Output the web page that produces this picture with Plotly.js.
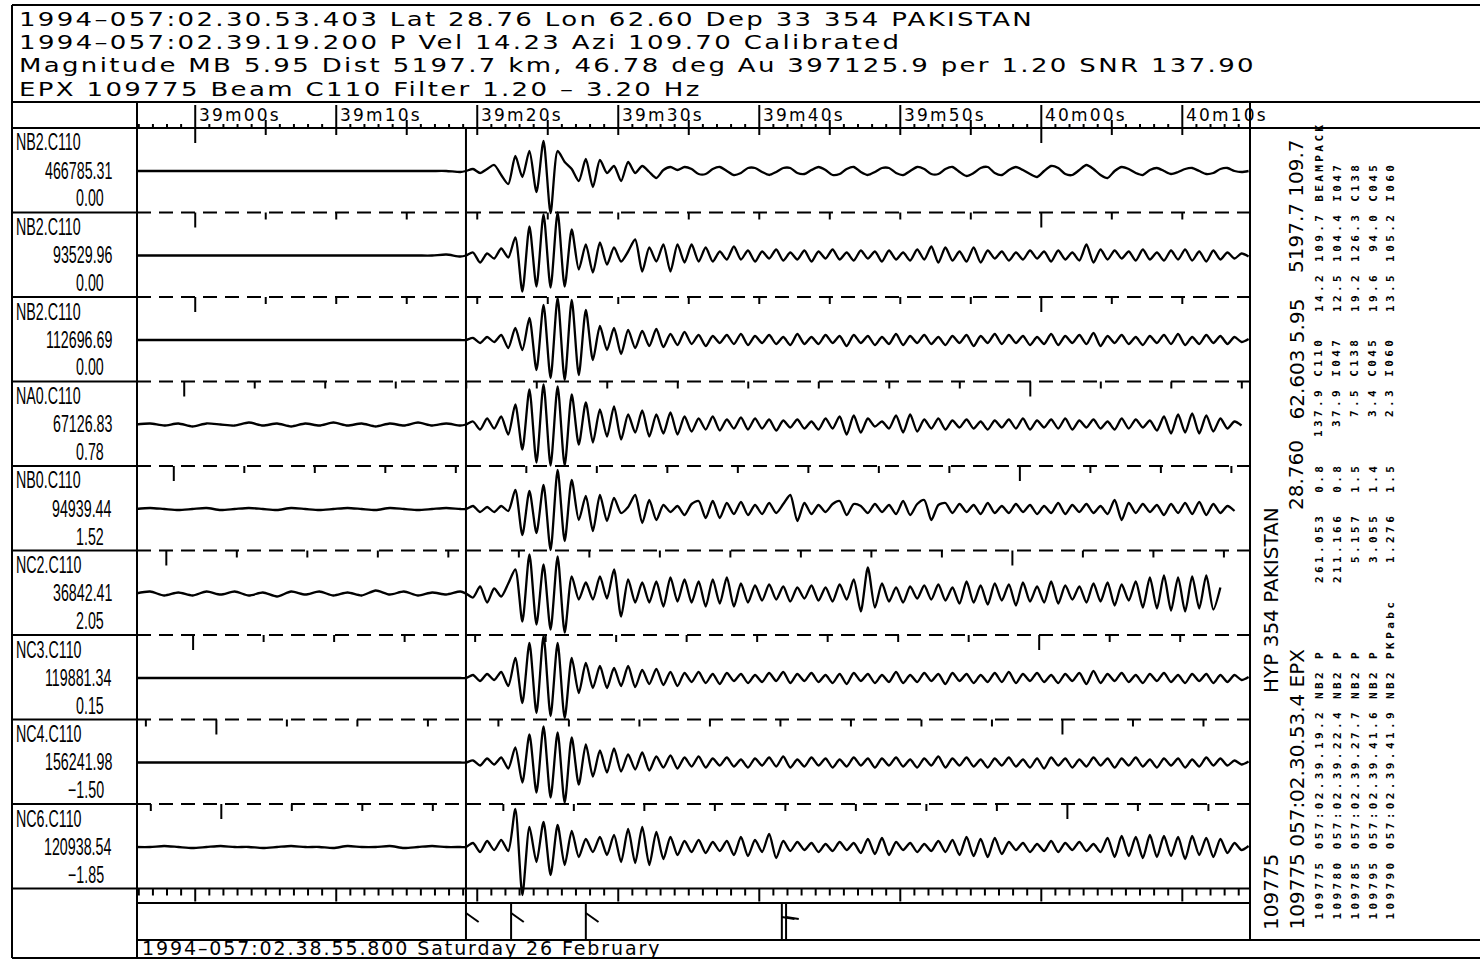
<!DOCTYPE html>
<html><head><meta charset="utf-8">
<script src="https://cdn.plot.ly/plotly-3.0.1.min.js"></script>
<style>
html,body{margin:0;padding:0;background:#fff;}
#chart{width:1480px;height:961px;}
text[style*="Verdana"]{letter-spacing:1.8px;transform-box:fill-box;transform-origin:center;transform:scaleX(1.3);}
text[style*="Tahoma"]{letter-spacing:2.2px;}
text[style*="Geneva"]{letter-spacing:1.9px;}
text[style*="Courier"]{letter-spacing:3.4px;}
text[style*="Arial Narrow"]{transform-box:fill-box;transform-origin:center;transform:scaleX(0.62);}
</style></head>
<body><div id="chart"></div>
<script>
// ---------------- data ----------------
const headerLines = [
  "1994–057:02.30.53.403 Lat 28.76 Lon 62.60 Dep 33 354 PAKISTAN",
  "1994–057:02.39.19.200 P Vel 14.23 Azi 109.70 Calibrated",
  "Magnitude MB 5.95 Dist 5197.7 km, 46.78 deg Au 397125.9 per 1.20 SNR 137.90",
  "EPX 109775 Beam C110 Filter 1.20 – 3.20 Hz"
];
const dateText = "1994–057:02.38.55.800 Saturday 26 February";
const START_SEC = 55.8;          // window start, seconds after 02:38:00
const ARRIVAL_SEC = 79.2;        // 02:39:19.2
const T_END = 79.0;              // window length (s)
const tickSecs = [60, 70, 80, 90, 100, 110, 120, 130];
const tickLabels = ["39m00s","39m10s","39m20s","39m30s","39m40s","39m50s","40m00s","40m10s"];

const stations = ["NB2.C110","NB2.C110","NB2.C110","NA0.C110","NB0.C110","NC2.C110","NC3.C110","NC4.C110","NC6.C110"];
const scales = ["466785.31","93529.96","112696.69","67126.83","94939.44","36842.41","119881.34","156241.98","120938.54"];
const delays = [0.00, 0.00, 0.00, 0.78, 1.52, 2.05, 0.15, -1.50, -1.85];

const PRE_DT = 1.0, POST_DT = 0.5;
// pre-arrival noise (1 s steps) and post-arrival waveform (0.5 s steps), amplitude in plot units
const pre_NB2a = [0,0,0,0,0,0,0,0,0,0,0,0,0,0,0,0,0,0,0,0,0,0,0,-1];
const post_NB2a = [0,2,-2,2,6,-4,-13,15,-6,20, -21,30,-42,20,9,2,-10,12,-16,11, -2,5,-10,9,-2,5,-1,-7,1,4,
  1,4,2,-3,-3,2,4,0,-4,-2, 3,3,-1,-4,-1,3,3,-2,-3,1, 4,1,-4,-3,2,4,-1,-4,-1,3, 3,-2,-4,0,4,2,-3,-3,2,4,
  -1,-5,-2,3,4,-2,-4,1,4,1, -3,-6,0,5,3,-3,-4,1,6,2, -4,-7,0,4,2,-2,-4,1,3,0, -3,-1,2,3,0,-3,-2,2,3,0, -1,0];
const pre_NB2b = [0,0,0,0,0,0,0,0,0,0,0,0,0,0,0,0,0,0,0,0,0,0,1,-1];
const post_NB2b = [0,3,-7,2,-3,7,-2,18,-36,29, -31,41,-32,43,-31,26,-14,11,-17,13, -9,8,-6,4,16,-16,8,-6,11,-16,
  11,-7,11,-6,8,-6,4,-4,9,-4, 5,-6,4,-3,6,-5,3,-4,5,-6, 4,-3,6,-4,3,-5,5,-3,4,-6, 5,-4,3,-5,6,-4,9,-7,8,-5,
  4,-6,8,-7,5,-3,4,-5,3,-4, 5,-3,4,-6,5,-4,3,-5,11,-7, 6,-4,5,-3,4,-5,6,-4,3,-5, 5,-4,6,-5,4,-6,5,-4,3,-3, 2,-1];
const pre_NB2c = [0,0,0,0,0,0,0,0,0,0,0,0,0,0,0,0,0,0,0,0,0,0,0,0];
const post_NB2c = [0,2,-3,3,-2,5,-8,12,-10,22, -30,35,-38,42,-40,40,-35,30,-20,14, -10,12,-14,10,-8,9,-6,11,-7,6,
  -5,8,-4,5,-6,4,-3,5,-4,6, -5,4,-3,5,-4,3,-5,6,-4,3, -4,5,-3,4,-6,5,-3,4,-5,3, -4,6,-5,4,-3,5,-4,3,-5,4,
  -3,5,-6,4,-3,6,-4,5,-3,4, -5,3,-4,6,-5,4,-3,5,-4,7, -6,4,-3,5,-4,3,-5,4,-3,5, -4,6,-5,3,-4,5,-3,4,-4,3, -2,1];
const pre_NA0 = [0,1,-1,1,-2,1,0,-1,2,-1,1,-2,1,-1,2,-1,1,-2,1,-1,2,-1,1,-1];
const post_NA0 = [0,3,-5,6,-4,8,-10,20,-25,35, -38,40,-41,38,-41,30,-20,22,-18,15, -12,18,-15,10,-8,14,-12,10,-9,12,
  -10,8,-7,6,-5,8,-6,5,-4,7, -5,6,-4,5,-6,4,-3,5,-4,3, -5,6,-4,8,-10,9,-8,6,-2,3, -4,9,-8,10,-7,5,-4,6,-5,4,
  -3,5,-4,3,-5,4,-3,5,-4,6, -5,4,-3,5,-4,6,-5,4,-3,5, -4,3,-5,6,-4,5,-3,4,-6,8, -9,10,-8,11,-9,9,-7,6,-4,3, -1];
const pre_NB0 = [0,1,0,-1,0,1,-1,0,1,0,-1,1,0,-1,0,1,0,-1,1,0,-1,0,1,0];
const post_NB0 = [0,3,-3,2,-3,3,-2,19,-26,18, -24,24,-41,39,-32,29,-11,13,-22,14, -12,11,-4,2,14,-14,9,-11,4,-3,
  3,-6,5,8,-9,8,-9,6,-5,7, -6,4,-5,6,-4,5,14,-12,6,-5, 4,-3,5,8,-6,5,3,-4,5,-3, 4,-5,8,-6,5,9,-11,4,6,-4,
  5,-3,4,-5,6,-4,3,-4,5,-3, 4,-5,3,-4,6,-5,4,-3,5,-4, 3,-5,9,-11,6,-4,5,-3,4,-6, 5,-4,6,-5,7,-6,5,-4,3,-2];
const pre_NC2 = [0,2,-2,1,-2,2,-1,2,-2,1,-3,2,-1,2,-2,1,-2,3,-1,2,-2,1,-1,2];
const post_NC2 = [0,-4,7,-9,5,-3,10,24,-28,39, -31,29,-36,37,-39,17,-6,11,-6,17, -5,24,-23,14,-9,11,-9,12,-13,16,
  -8,14,-9,12,-13,14,-10,16,-13,10, -9,8,-7,9,-6,7,-8,6,-5,8, -7,6,-8,9,-6,14,-18,26,-14,10, -8,6,-9,7,-5,8,-6,9,-7,6,
  -10,12,-9,8,-11,10,-7,9,-12,11, -8,7,-9,12,-10,8,-6,7,-9,10, -8,11,-12,9,-7,12,-14,16,-15,18, -17,16,-18,17,-15,18,-16,6];
const pre_NC3 = [0,0,0,0,0,0,0,0,0,0,0,0,0,0,0,0,0,0,0,0,0,0,0,0];
const post_NC3 = [0,3,-3,4,-2,6,-8,20,-25,35, -35,42,-38,35,-40,20,-15,15,-10,12, -10,10,-8,12,-9,8,-6,9,-7,6,
  -8,5,-4,6,-5,4,-6,5,-3,4, -5,3,-4,5,-3,6,-5,4,-3,5, -4,3,-5,4,-6,5,-3,4,-5,3, -4,6,-5,3,-4,5,-3,4,-6,5,
  -3,4,-5,3,-4,5,-4,6,-5,4, -3,5,-4,3,-5,4,-3,5,-6,7, -5,4,-3,5,-4,3,-5,4,-3,5, -4,3,-5,4,-3,4,-5,3,-4,3, -2,1];
const pre_NC4 = [0,0,0,0,0,0,0,0,0,0,0,0,0,0,0,0,0,0,0,0,0,0,0,0];
const post_NC4 = [0,2,-3,4,-2,5,-6,15,-20,28, -30,36,-35,30,-40,25,-22,18,-14,12, -10,14,-9,8,-7,10,-8,6,-5,7,
  -6,5,-4,6,-5,4,-3,5,-4,3, -5,4,-3,5,-4,6,-5,3,-4,5, -3,4,-5,3,-4,5,-3,4,-5,4, -3,5,-4,3,-5,4,-3,6,-5,4,
  -3,5,-4,3,-5,4,-3,5,-4,3, -5,4,-6,5,-3,4,-5,3,-4,5, -3,4,-5,4,-3,5,-4,3,-5,4, -3,4,-5,3,-4,5,-3,4,-3,2, -2,1];
const pre_NC6 = [0,0,1,0,-1,0,1,0,0,-1,0,1,0,0,-1,1,0,0,1,-1,0,1,0,0];
const post_NC6 = [0,4,-5,6,-3,7,-4,38,-48,20, -15,25,-28,22,-18,16,-10,8,-5,10, -8,12,-15,18,-16,20,-18,15,-12,10,
  -8,6,-5,7,-6,5,-4,6,-8,10, -9,7,-5,13,-11,6,-4,5,-3,4, -5,3,-4,5,-3,4,-6,8,-7,9, -8,5,-3,4,-5,3,-4,6,-5,7,
  -8,10,-9,8,-10,9,-7,5,-3,4, -5,3,-4,6,-5,4,-3,5,-4,3, -5,9,-10,11,-9,10,-11,12,-10,11, -9,10,-12,11,-8,9,-10,8,-6,4, -3,1];
const preWaves = [pre_NB2a, pre_NB2b, pre_NB2c, pre_NA0, pre_NB0, pre_NC2, pre_NC3, pre_NC4, pre_NC6];
const postWaves = [post_NB2a, post_NB2b, post_NB2c, post_NA0, post_NB0, post_NC2, post_NC3, post_NC4, post_NC6];

// right-hand info panel
const evBig1 = ["109775", "HYP 354 PAKISTAN"];
const evBig2 = ["109775 057:02.30.53.4 EPX", "28.760", "62.603 5.95", "5197.7 109.7"];
const pickIds   = ["109775","109780","109785","109795","109790"];
const pickTimes = ["057:02.39.19.2","057:02.39.22.4","057:02.39.27.7","057:02.39.41.6","057:02.39.41.9"];
const pickSta   = ["NB2","NB2","NB2","NB2","NB2"];
const pickPhase = ["P","P","P","P","PKPabc"];
const pickAmp   = ["261.053","211.166","5.157","3.055","1.276"];
const pickPer   = ["0.8","0.8","1.5","1.4","1.5"];
const pickSnr   = ["137.9","37.9","7.5","3.4","2.3"];
const pickBeam  = ["C110","I047","C138","C045","I060"];
const pickVel   = ["14.2","12.5","19.2","19.6","13.5"];
const pickAzi   = ["109.7","104.4","126.3","94.0","105.2"];
const pickBeam2 = ["BEAMPACK","I047","C138","C045","I060"];

// ---------------- layout geometry ----------------
const W = 1480, H = 961;
const PLOT_L = 136, PLOT_R = 1250, LAB_L = 12;
const ROW_TOP = 128, ROW_H = 84.5, BASE_OFF = 43;
const AX_BOT = ROW_TOP + 9 * ROW_H;   // bottom axis line
const MK_TOP = 903, MK_BOT = 940, FR_TOP = 5, FR_BOT = 958, HDR_BOT = 102;
const px = x => x / W, py = y => 1 - y / H;
const NB = '\u00A0';
const rowTop = r => ROW_TOP + r * ROW_H;

const traces = [];
const shapes = [];
const ann = [];
const BLK = '#000';

function pline(x0, y0, x1, y1, opt) {
  shapes.push({type:'line', xref:'paper', yref:'paper', x0:px(x0), y0:py(y0), x1:px(x1), y1:py(y1),
    line:Object.assign({color:BLK, width:2}, opt || {})});
}

// waveforms
for (let r = 0; r < 9; r++) {
  const base = rowTop(r) + BASE_OFF;
  const pre = preWaves[r], post = postWaves[r];
  const tArr = ARRIVAL_SEC - START_SEC;
  const xs = pre.map((_, i) => i * PRE_DT).concat(post.map((_, i) => tArr + i * POST_DT));
  const ys = pre.concat(post).map(v => -base + v);
  traces.push({x: xs, y: ys, type:'scatter', mode:'lines', hoverinfo:'skip',
    line:{color:BLK, width:2.3, shape:'spline', smoothing:0.7}});
}

// tick marks (as line segments in data space)
const tx = [], ty = [];
function seg(t, y0, y1) { tx.push(t, t, null); ty.push(-y0, -y1, null); }
for (let s = Math.ceil(START_SEC); s - START_SEC <= T_END; s++) {
  const t = s - START_SEC;
  const len = (s % 10 === 0) ? 23 : (s % 5 === 0 ? 8 : 4);
  seg(t, ROW_TOP, ROW_TOP - len);
}
for (let s = Math.ceil(START_SEC); s - START_SEC <= T_END; s++) {
  const t = s - START_SEC;
  seg(t, AX_BOT, AX_BOT + (s % 10 === 0 ? 13 : 7));
}
for (let r = 0; r < 9; r++) {
  for (let s = 55; s <= 140; s += 5) {
    const t = s - START_SEC - delays[r];
    if (t < 0.3 || t > T_END - 0.2) continue;
    seg(t, rowTop(r), rowTop(r) + (s % 60 === 0 ? 15 : 7));
  }
}
traces.push({x: tx, y: ty, type:'scatter', mode:'lines', hoverinfo:'skip', line:{color:BLK, width:2}});

// picks in the marker strip
function pickSec(s) { const p = s.split(':')[1].split('.'); return (parseInt(p[1], 10) - 38) * 60 + parseFloat(p[2] + '.' + p[3]); }
const fx = [], fy = [];
pickTimes.forEach((s, i) => {
  const t = pickSec(s) - START_SEC;
  const top = (i === 0) ? ROW_TOP : MK_TOP;
  fx.push(t, t, null); fy.push(-top, -MK_BOT, null);
  if (i < 3) { fx.push(t, t + 0.9, null); fy.push(-913, -922, null); }
  else { fx.push(t, t + 0.9, null); fy.push(-917, -919, null); }
});
traces.push({x: fx, y: fy, type:'scatter', mode:'lines', hoverinfo:'skip', line:{color:BLK, width:2}});

// frame lines
pline(LAB_L, FR_TOP, W, FR_TOP);
pline(LAB_L, FR_TOP, LAB_L, FR_BOT);
pline(LAB_L, HDR_BOT, W, HDR_BOT);
pline(LAB_L, ROW_TOP, W, ROW_TOP);
pline(PLOT_L + 1, HDR_BOT, PLOT_L + 1, FR_BOT);
pline(PLOT_R, HDR_BOT, PLOT_R, MK_BOT);
pline(LAB_L, AX_BOT, PLOT_R, AX_BOT);
pline(PLOT_L, MK_TOP, PLOT_R, MK_TOP);
pline(PLOT_L, MK_BOT, W, MK_BOT);
pline(LAB_L, FR_BOT, W, FR_BOT);
for (let r = 1; r < 9; r++) {
  pline(LAB_L, rowTop(r), PLOT_L + 1, rowTop(r));
  pline(PLOT_L + 1, rowTop(r), PLOT_R, rowTop(r), {dash:'14px,8px'});
}

// header text
const hdrY = [18, 41.5, 65, 88.5];
headerLines.forEach((t, i) => ann.push({xref:'paper', yref:'paper', x:px(18), y:py(hdrY[i]), xanchor:'left', yanchor:'middle',
  text:t, showarrow:false, borderpad:0, font:{family:'"DejaVu Sans", Verdana', size:20, color:BLK}}));
// time axis labels
tickSecs.forEach((s, i) => ann.push({xref:'x', yref:'paper', x:s - START_SEC + 0.2, y:py(115), xanchor:'left', yanchor:'middle',
  text:tickLabels[i], showarrow:false, borderpad:0, font:{family:'"DejaVu Sans", Tahoma', size:17, color:BLK}}));
// date line
ann.push({xref:'paper', yref:'paper', x:px(141), y:py(948), xanchor:'left', yanchor:'middle', text:dateText,
  showarrow:false, borderpad:0, font:{family:'"DejaVu Sans", Geneva', size:19, color:BLK}});
// channel labels (condensed)
const labFont = {family:'"Liberation Sans", "Arial Narrow"', size:23, color:BLK};
for (let r = 0; r < 9; r++) {
  const y0 = rowTop(r);
  ann.push({xref:'paper', yref:'paper', x:px(15), y:py(y0 + 15), xanchor:'left', yanchor:'middle', text:stations[r], showarrow:false, borderpad:0, font:labFont});
  ann.push({xref:'paper', yref:'paper', x:px(113), y:py(y0 + 43), xanchor:'right', yanchor:'middle', text:scales[r], showarrow:false, borderpad:0, font:labFont});
  ann.push({xref:'paper', yref:'paper', x:px(105), y:py(y0 + 71), xanchor:'right', yanchor:'middle', text:delays[r].toFixed(2).replace('-', '−'), showarrow:false, borderpad:0, font:labFont});
}
// right panel: rotated text
function vtext(x, y, anchor, text, font) {
  ann.push({xref:'paper', yref:'paper', x:px(x), y:py(y), xanchor:'center', yanchor:anchor, textangle:-90,
    text:text.replace(/ /g, NB), showarrow:false, borderpad:0, borderwidth:0, font:font});
}
const bigFont = {family:'"DejaVu Sans"', size:20, color:BLK};
vtext(1271, 930, 'bottom', evBig1[0], bigFont);
vtext(1271, 693, 'bottom', evBig1[1], bigFont);
vtext(1296, 930, 'bottom', evBig2[0], bigFont);
vtext(1296, 510, 'bottom', evBig2[1], bigFont);
vtext(1296, 420, 'bottom', evBig2[2], bigFont);
vtext(1296, 273, 'bottom', evBig2[3], bigFont);
const smFont = {family:'"DejaVu Sans Mono", Courier', size:11, weight:'bold', color:BLK};
const smX = [1319, 1337, 1355, 1373, 1390];
for (let i = 0; i < 5; i++) {
  vtext(smX[i], 920, 'bottom', pickIds[i] + ' ' + pickTimes[i] + ' ' + pickSta[i] + ' ' + pickPhase[i], smFont);
  vtext(smX[i], 463, 'top', pickAmp[i].padStart(7, ' ') + '  ' + pickPer[i], smFont);
  vtext(smX[i], 337, 'top', pickSnr[i].padStart(5, ' ') + ' ' + pickBeam[i], smFont);
  vtext(smX[i], 312, 'bottom', pickVel[i] + ' ' + pickAzi[i].padStart(5, ' ') + ' ' + pickBeam2[i], smFont);
}

const layout = {
  width: W, height: H, autosize: false,
  margin: {l:0, r:0, t:0, b:0, pad:0},
  paper_bgcolor: '#fff', plot_bgcolor: '#fff',
  showlegend: false,
  xaxis: {domain:[px(PLOT_L), px(PLOT_R)], range:[0, T_END], visible:false, fixedrange:true},
  yaxis: {domain:[0, 1], range:[-H, 0], visible:false, fixedrange:true},
  shapes: shapes, annotations: ann
};
Plotly.newPlot('chart', traces, layout, {staticPlot:true, displayModeBar:false});
</script></body></html>
